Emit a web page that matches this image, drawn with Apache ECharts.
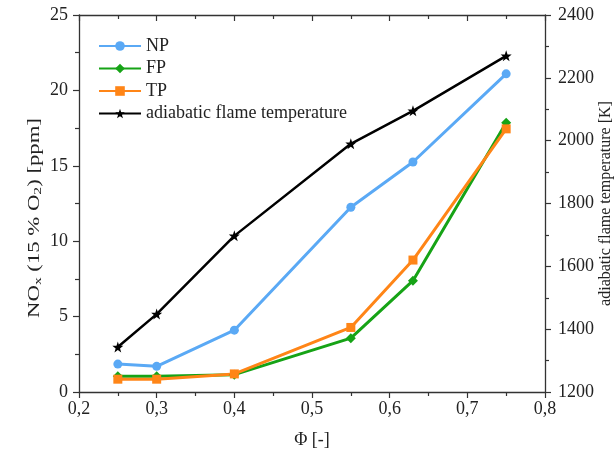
<!DOCTYPE html>
<html><head><meta charset="utf-8">
<script src="https://cdn.jsdelivr.net/npm/echarts@6/dist/echarts.min.js"></script>
<style>html,body{margin:0;padding:0;background:#fff}#c{width:615px;height:457px}</style>
</head><body><div id="c"></div>
<script>
var phi = [0.25, 0.30, 0.40, 0.55, 0.63, 0.75];
var npVals = [1.85, 1.7, 4.1, 12.25, 15.25, 21.1];
var fpVals = [1.05, 1.05, 1.15, 3.57, 7.38, 17.85];
var tpVals = [0.85, 0.85, 1.2, 4.28, 8.75, 17.45];
var tadVals = [1343, 1448, 1697, 1990, 2095, 2270];
var seriesNames = ['NP', 'FP', 'TP', 'adiabatic flame temperature'];
var colors = ['#5aa9f5', '#16a316', '#ff8517', '#000000'];

function pairs(ys){ return phi.map(function(x,i){ return [x, ys[i]]; }); }
var F = 'Liberation Serif';
var axisLine = {lineStyle:{color:'#333', width:1.3}};
var tickStyle = {color:'#333', width:1.2};
var chart = echarts.init(document.getElementById('c'));
chart.setOption({
  animation:false,
  textStyle:{fontFamily:F},
  grid:{left:79, right:70, top:15, bottom:65, outerBoundsMode:'none', containLabel:false},
  legend:{
    left:98, top:37, orient:'vertical', padding:0, itemWidth:42, itemHeight:12, itemGap:4.5,
    textStyle:{fontFamily:F, fontSize:18, color:'#222'}, data:seriesNames
  },
  graphic:[{
    type:'text', x:35, y:218, rotation:Math.PI/2, scaleX:1.42,
    style:{
      text:'{a|NO}{s|x}{a| (15 % O}{s|2}{a|) [ppm]}',
      align:'center', verticalAlign:'middle',
      rich:{
        a:{fontFamily:F, fontSize:16, fill:'#222'},
        s:{fontFamily:F, fontSize:11, fill:'#222', padding:[7,0,0,0]}
      }
    }
  }],
  xAxis:[{
    type:'value', min:0.2, max:0.8, interval:0.1, position:'bottom',
    name:'Φ [-]', nameLocation:'middle', nameGap:39,
    nameTextStyle:{fontFamily:F, fontSize:18, color:'#222'},
    axisLine:axisLine, axisTick:{length:6, lineStyle:tickStyle},
    minorTick:{show:true, splitNumber:2, length:4, lineStyle:tickStyle},
    splitLine:{show:false},
    axisLabel:{fontFamily:F, fontSize:18, color:'#222', margin:8,
      formatter:function(v){ return v.toFixed(1).replace('.', ','); }}
  },{
    type:'value', min:0.2, max:0.8, interval:0.1, position:'top',
    axisLine:axisLine, axisTick:{inside:true, length:6, lineStyle:tickStyle},
    minorTick:{show:true, splitNumber:2, length:4, lineStyle:tickStyle},
    splitLine:{show:false}, axisLabel:{show:false}
  }],
  yAxis:[{
    type:'value', min:0, max:25, interval:5, position:'left',
    axisLine:axisLine, axisTick:{length:6, lineStyle:tickStyle},
    minorTick:{show:true, splitNumber:2, length:4, lineStyle:tickStyle},
    splitLine:{show:false},
    axisLabel:{fontFamily:F, fontSize:18, color:'#222', margin:11}
  },{
    type:'value', min:1200, max:2400, interval:200, position:'right',
    name:'adiabatic flame temperature [K]', nameLocation:'middle', nameGap:53, nameRotate:90,
    nameMoveOverlap:false,
    nameTextStyle:{fontFamily:F, fontSize:16, color:'#222'},
    axisLine:axisLine, axisTick:{length:6, lineStyle:tickStyle},
    minorTick:{show:true, splitNumber:2, length:4, lineStyle:tickStyle},
    splitLine:{show:false},
    axisLabel:{fontFamily:F, fontSize:18, color:'#222', margin:13,
      formatter:function(v){ return String(v); }}
  }],
  series:[
    {name:seriesNames[0], type:'line', data:pairs(npVals), symbol:'circle', symbolSize:9,
     itemStyle:{color:colors[0]}, lineStyle:{width:3, color:colors[0]}},
    {name:seriesNames[1], type:'line', data:pairs(fpVals), symbol:'diamond', symbolSize:10,
     itemStyle:{color:colors[1]}, lineStyle:{width:3, color:colors[1]}},
    {name:seriesNames[2], type:'line', data:pairs(tpVals), symbol:'rect', symbolSize:9,
     itemStyle:{color:colors[2]}, lineStyle:{width:3, color:colors[2]}},
    {name:seriesNames[3], type:'line', yAxisIndex:1, data:pairs(tadVals),
     symbol:'path://M0,-10 L2.35,-3.24 L9.51,-3.09 L3.8,1.24 L5.88,8.09 L0,4 L-5.88,8.09 L-3.8,1.24 L-9.51,-3.09 L-2.35,-3.24 Z',
     symbolSize:11, itemStyle:{color:colors[3]}, lineStyle:{width:2.5, color:colors[3]}}
  ]
});
</script></body></html>
